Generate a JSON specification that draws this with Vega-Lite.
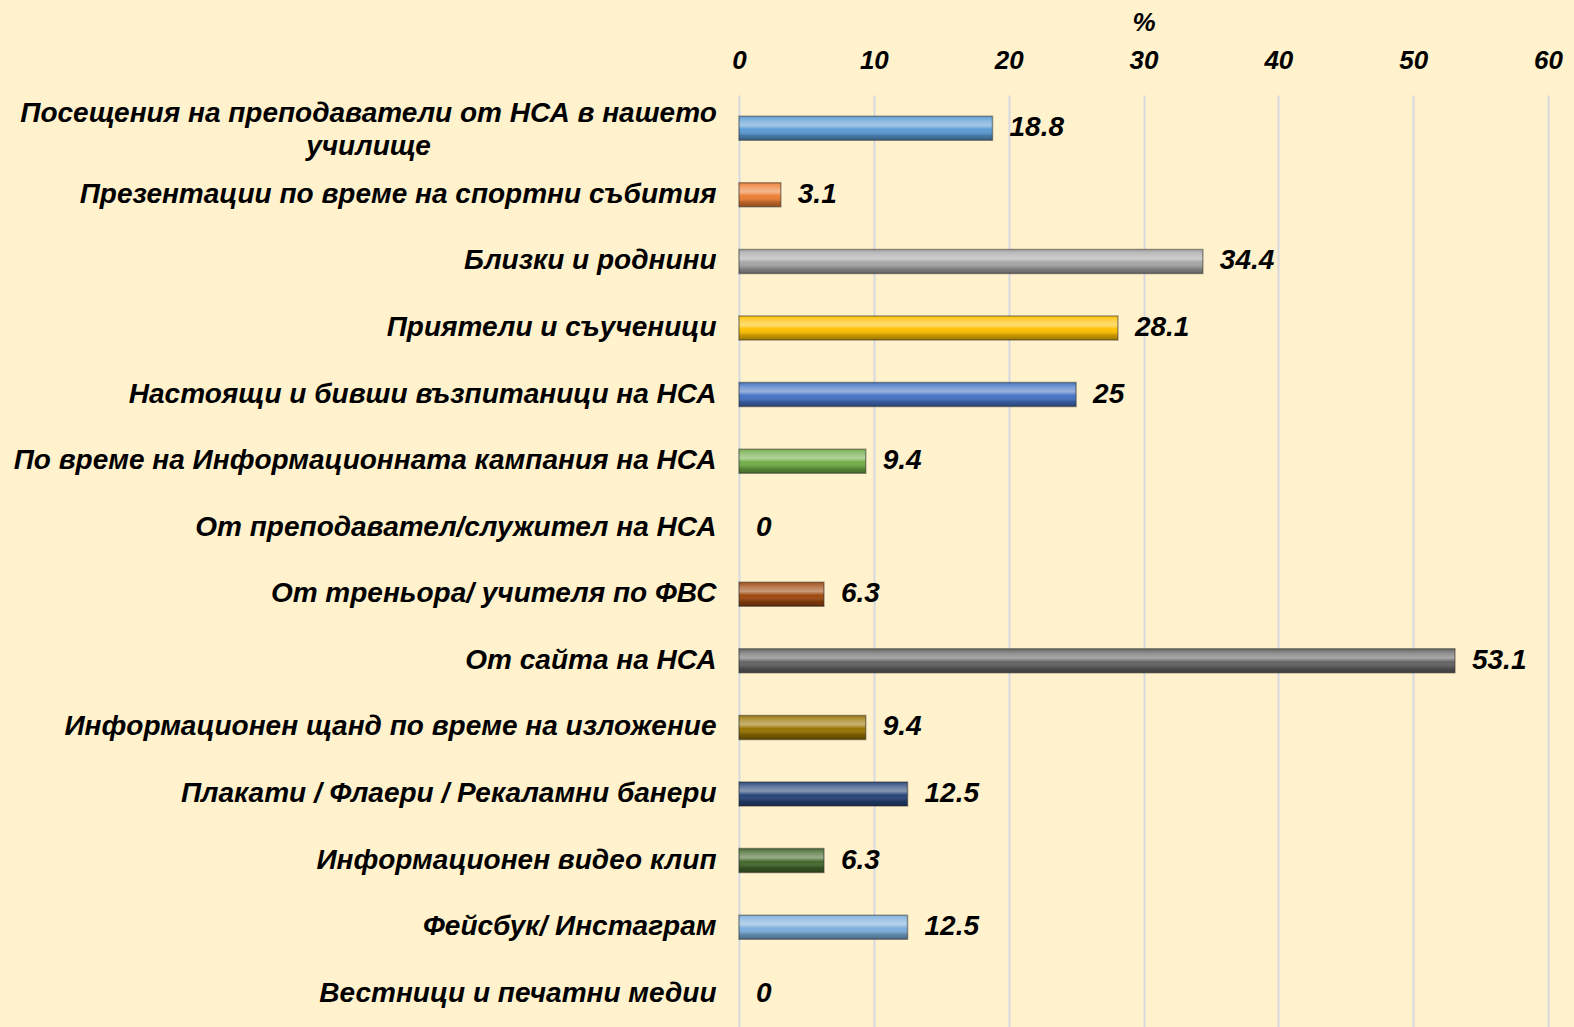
{
  "$schema": "https://vega.github.io/schema/vega-lite/v6.json",
  "autosize": {"type": "none"},
  "width": 809,
  "height": 932,
  "padding": {"left": 739, "top": 95, "right": 26, "bottom": 0},
  "background": "#FFF2CC",
  "config": {
    "view": {"stroke": null},
    "font": "Liberation Sans"
  },
  "data": {
    "values": [
      {"category": "Посещения на преподаватели от НСА в нашето училище", "value": 18.8},
      {"category": "Презентации по време на спортни събития", "value": 3.1},
      {"category": "Близки и роднини", "value": 34.4},
      {"category": "Приятели и съученици", "value": 28.1},
      {"category": "Настоящи и бивши възпитаници на НСА", "value": 25},
      {"category": "По време на Информационната кампания на НСА", "value": 9.4},
      {"category": "От преподавател/служител на НСА", "value": 0},
      {"category": "От треньора/ учителя по ФВС", "value": 6.3},
      {"category": "От сайта на НСА", "value": 53.1},
      {"category": "Информационен щанд по време на изложение", "value": 9.4},
      {"category": "Плакати / Флаери / Рекаламни банери", "value": 12.5},
      {"category": "Информационен видео клип", "value": 6.3},
      {"category": "Фейсбук/ Инстаграм", "value": 12.5},
      {"category": "Вестници и печатни медии", "value": 0}
    ]
  },
  "encoding": {
    "y": {
      "field": "category",
      "type": "nominal",
      "sort": null,
      "scale": {"paddingInner": 0.64, "paddingOuter": 0.32},
      "axis": {
        "title": null,
        "domain": false,
        "ticks": false,
        "labelFont": "Liberation Sans",
        "labelFontSize": 28,
        "labelFontWeight": "bold",
        "labelFontStyle": "italic",
        "labelColor": "#000000",
        "labelPadding": {"condition": {"test": "datum.value == 'Посещения на преподаватели от НСА в нашето училище'", "value": 371}, "value": 23},
        "labelAlign": {"condition": {"test": "datum.value == 'Посещения на преподаватели от НСА в нашето училище'", "value": "center"}, "value": "right"},
        "labelLimit": 0,
        "labelLineHeight": 33,
        "labelOffset": {"condition": {"test": "datum.value == 'Посещения на преподаватели от НСА в нашето училище'", "value": -14}, "value": 0},
        "labelExpr": "datum.value == 'Посещения на преподаватели от НСА в нашето училище' ? ['Посещения на преподаватели от НСА в нашето', 'училище'] : datum.label"
      }
    },
    "x": {
      "field": "value",
      "type": "quantitative",
      "scale": {"domain": [0, 60], "nice": false},
      "axis": {
        "orient": "top",
        "title": "%",
        "values": [0, 10, 20, 30, 40, 50, 60],
        "domain": false,
        "ticks": false,
        "grid": true,
        "gridColor": "#D6D8E2",
        "gridWidth": 2,
        "labelFlush": false,
        "labelFont": "Liberation Sans",
        "labelFontSize": 26,
        "labelFontWeight": "bold",
        "labelFontStyle": "italic",
        "labelColor": "#000000",
        "labelPadding": 22,
        "titleFont": "Liberation Sans",
        "titleFontSize": 26,
        "titleFontWeight": "bold",
        "titleFontStyle": "italic",
        "titleColor": "#000000",
        "titlePadding": 12
      }
    }
  },
  "layer": [
    {
      "mark": {"type": "bar", "cornerRadius": 0},
      "encoding": {
        "color": {
          "field": "category",
          "type": "nominal",
          "legend": null,
          "scale": {
            "domain": [
              "Посещения на преподаватели от НСА в нашето училище",
              "Презентации по време на спортни събития",
              "Близки и роднини",
              "Приятели и съученици",
              "Настоящи и бивши възпитаници на НСА",
              "По време на Информационната кампания на НСА",
              "От преподавател/служител на НСА",
              "От треньора/ учителя по ФВС",
              "От сайта на НСА",
              "Информационен щанд по време на изложение",
              "Плакати / Флаери / Рекаламни банери",
              "Информационен видео клип",
              "Фейсбук/ Инстаграм",
              "Вестници и печатни медии"
            ],
            "range": ["#5B9BD5", "#ED7D31", "#A5A5A5", "#FFC000", "#4472C4", "#70AD47", "#255E91", "#9E480E", "#636363", "#997300", "#264478", "#43682B", "#7CAFDD", "#F1975A"]
          }
        }
      }
    },
    {
      "transform": [{"filter": "datum.value > 0"}],
      "mark": {
        "type": "bar",
        "stroke": "#2A2A2A",
        "strokeOpacity": 0.45,
        "strokeWidth": 1.5,
        "color": {
          "gradient": "linear",
          "x1": 0, "y1": 0, "x2": 0, "y2": 1,
          "stops": [
            {"offset": 0, "color": "rgba(255,255,255,0.05)"},
            {"offset": 0.2, "color": "rgba(255,255,255,0.3)"},
            {"offset": 0.38, "color": "rgba(255,255,255,0.45)"},
            {"offset": 0.55, "color": "rgba(255,255,255,0)"},
            {"offset": 0.8, "color": "rgba(0,0,0,0.22)"},
            {"offset": 1, "color": "rgba(0,0,0,0.38)"}
          ]
        }
      }
    },
    {
      "mark": {
        "type": "text",
        "align": "left",
        "baseline": "middle",
        "dx": 17,
        "font": "Liberation Sans",
        "fontSize": 28,
        "fontWeight": "bold",
        "fontStyle": "italic",
        "color": "#000000"
      },
      "encoding": {
        "text": {"field": "value", "type": "quantitative"}
      }
    }
  ]
}
